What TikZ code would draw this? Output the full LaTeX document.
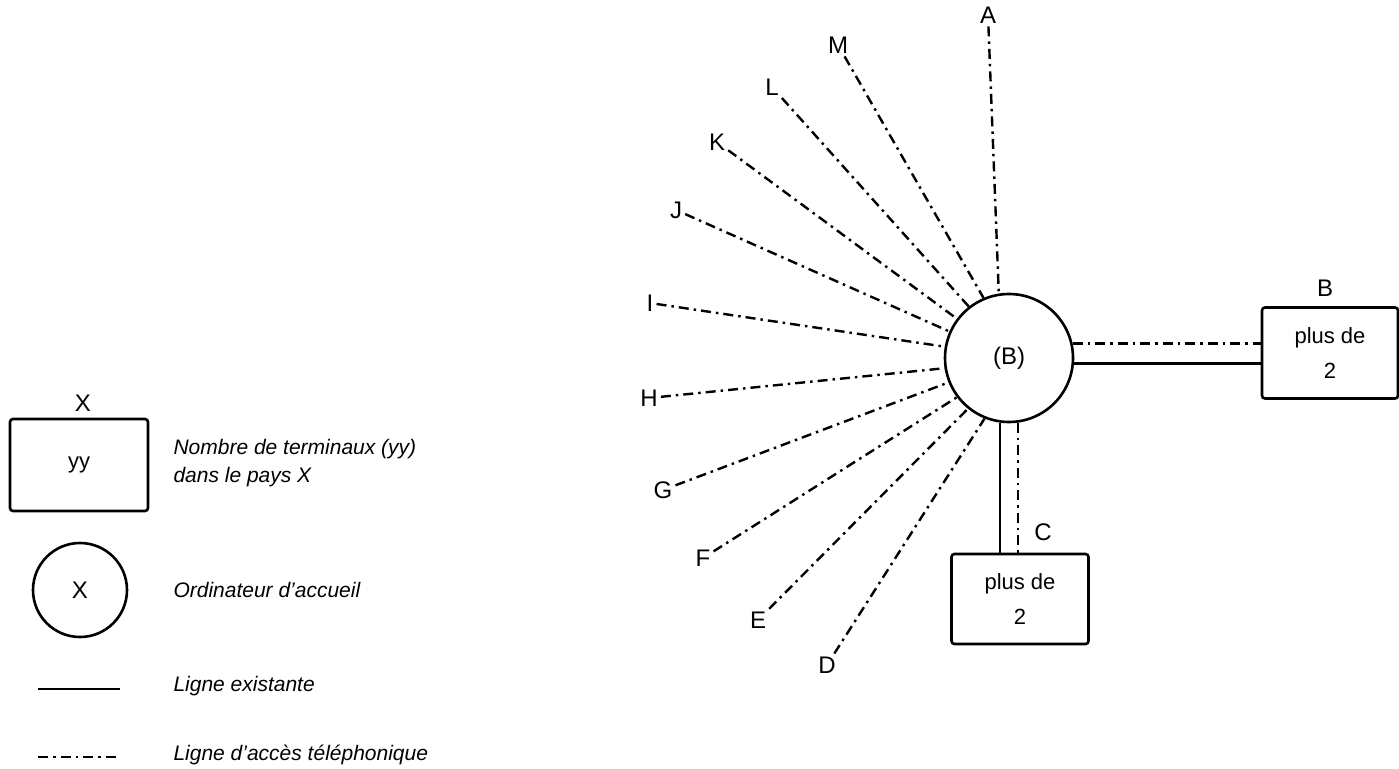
\documentclass[tikz,border=0pt]{standalone}
\usepackage{fontspec}
\setmainfont{Liberation Sans}
\tikzset{
  phone/.style={line width=2.4pt, dash pattern=on 10pt off 5pt on 2.5pt off 5pt},
  existing/.style={line width=2.6pt},
  hostnode/.style={draw, circle, line width=2.6pt, minimum size=128pt, inner sep=0pt, font=\fontsize{24}{28}\selectfont},
  termbox/.style={draw, rounded corners=3pt, line width=2.6pt, minimum width=136pt, minimum height=91pt, align=center, font=\fontsize{22}{35}\selectfont},
  tag/.style={inner sep=3pt, font=\fontsize{24}{28}\selectfont},
  legend/.style={anchor=west, align=left, font=\fontsize{21}{28}\selectfont\itshape},
}
\begin{document}
\begin{tikzpicture}[x=1pt, y=-1pt]
        \useasboundingbox (0,0) rectangle (1399,768);
        % legend
        \node[tag] (lx) at (83,403) {X};
        \node[termbox, minimum width=138pt, minimum height=92pt] (lbox) at (79,465) {yy};
        \node[legend] (ltxt1) at (170,463) {Nombre de terminaux (yy)\\dans le pays X};
        \node[hostnode, minimum size=94pt] (lhost) at (80,590) {X};
        \node[legend] (ltxt2) at (170,590) {Ordinateur d'accueil};
        \draw[existing] (38,689) -- (120,689);
        \node[legend] (ltxt3) at (170,686) {Ligne existante};
        \draw[phone] (38,757) -- (120,757);
        \node[legend] (ltxt4) at (170,755) {Ligne d'accès téléphonique};
        % host computer and terminals
        \node[hostnode] (host) at (1009,358) {(B)};
        \node[termbox] (boxB) at (1330,353) {plus de\\2};
        \node[tag] (B) at (1325,288) {B};
        \node[termbox, minimum width=137pt, minimum height=90pt] (boxC) at (1020,599) {plus de\\2};
        \node[tag] (C) at (1043,532) {C};
        \draw[phone] (host.13) -- (host.13 -| boxB.west);
        \draw[existing] (host.-5) -- (host.-5 -| boxB.west);
        \draw[existing] (host.262) -- (host.262 |- boxC.north);
        \draw[phone] (host.278) -- (host.278 |- boxC.north);
        % telephone access lines
        \node[tag] (A) at (988,15) {A};
        \node[tag] (M) at (838,45) {M};
        \node[tag] (L) at (772,87) {L};
        \node[tag] (K) at (717,142) {K};
        \node[tag] (J) at (676,210) {J};
        \node[tag] (I) at (650,303) {I};
        \node[tag] (H) at (649,398) {H};
        \node[tag] (G) at (663,490) {G};
        \node[tag] (F) at (703,558) {F};
        \node[tag] (E) at (758,620) {E};
        \node[tag] (D) at (827,665) {D};
        \draw[phone] (A) -- (host.99);
        \draw[phone] (M) -- (host.113);
        \draw[phone] (L) -- (host.128);
        \draw[phone] (K) -- (host.143);
        \draw[phone] (J) -- (host.156);
        \draw[phone] (I) -- (host.170);
        \draw[phone] (H) -- (host.189);
        \draw[phone] (G) -- (host.202);
        \draw[phone] (F) -- (host.217);
        \draw[phone] (E) -- (host.231);
        \draw[phone] (D) -- (host.248);
\end{tikzpicture}
\end{document}
